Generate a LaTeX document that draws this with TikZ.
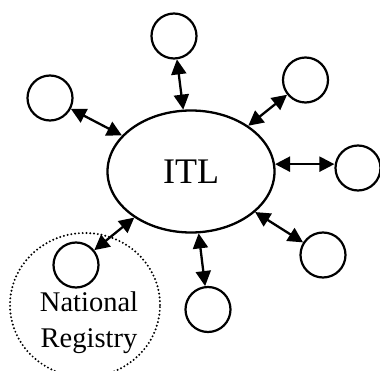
\documentclass[tikz,border=0pt]{standalone}
\usepackage{fontspec}
\setmainfont{Liberation Serif}
\usetikzlibrary{shapes.geometric,arrows.meta}
\begin{document}
\begin{tikzpicture}[x=1pt,y=-1pt,
  party/.style={circle,draw,line width=2.2pt,minimum size=45pt,inner sep=0pt},
  hub/.style={ellipse,draw,line width=2.3pt,minimum width=167pt,minimum height=122pt,inner sep=0pt,font=\fontsize{36}{36}\selectfont},
  link/.style={line width=2.3pt,{Triangle[length=15pt,width=15pt]}-{Triangle[length=15pt,width=15pt]}},
  registry/.style={ellipse,draw,line width=2.2pt,dash pattern=on 0pt off 3.8pt,line cap=round,minimum width=150pt,minimum height=144pt,inner sep=0pt},
  caption/.style={anchor=base,font=\fontsize{28.5}{28.5}\selectfont,inner sep=0pt}]
  \useasboundingbox (0,0) rectangle (380,371);

  % national registry boundary
  \node[registry] (reg) at (85,305) {};
  \node[caption] (nat) at (89,311) {National};
  \node[caption] (regtxt) at (89,347) {Registry};

  % central hub
  \node[hub] (itl) at (191,171.5) {ITL};

  % participating registries
  \node[party] (top) at (174,36) {};
  \node[party] (tr) at (305.5,80) {};
  \node[party] (r) at (358,168) {};
  \node[party] (br) at (323,255) {};
  \node[party] (b) at (208,309.5) {};
  \node[party] (l) at (50,98) {};
  \node[party] (nr) at (76,265) {};

  % two-way links to the hub
  \draw[link] (top) -- (itl);
  \draw[link] (tr) -- (itl);
  \draw[link] (itl.5) -- (itl.5 -| r.west);
  \draw[link] (br) -- (itl);
  \draw[link] (b) -- (itl);
  \draw[link] (l) -- (itl);
  \draw[link] (nr) -- (itl);
\end{tikzpicture}
\end{document}
